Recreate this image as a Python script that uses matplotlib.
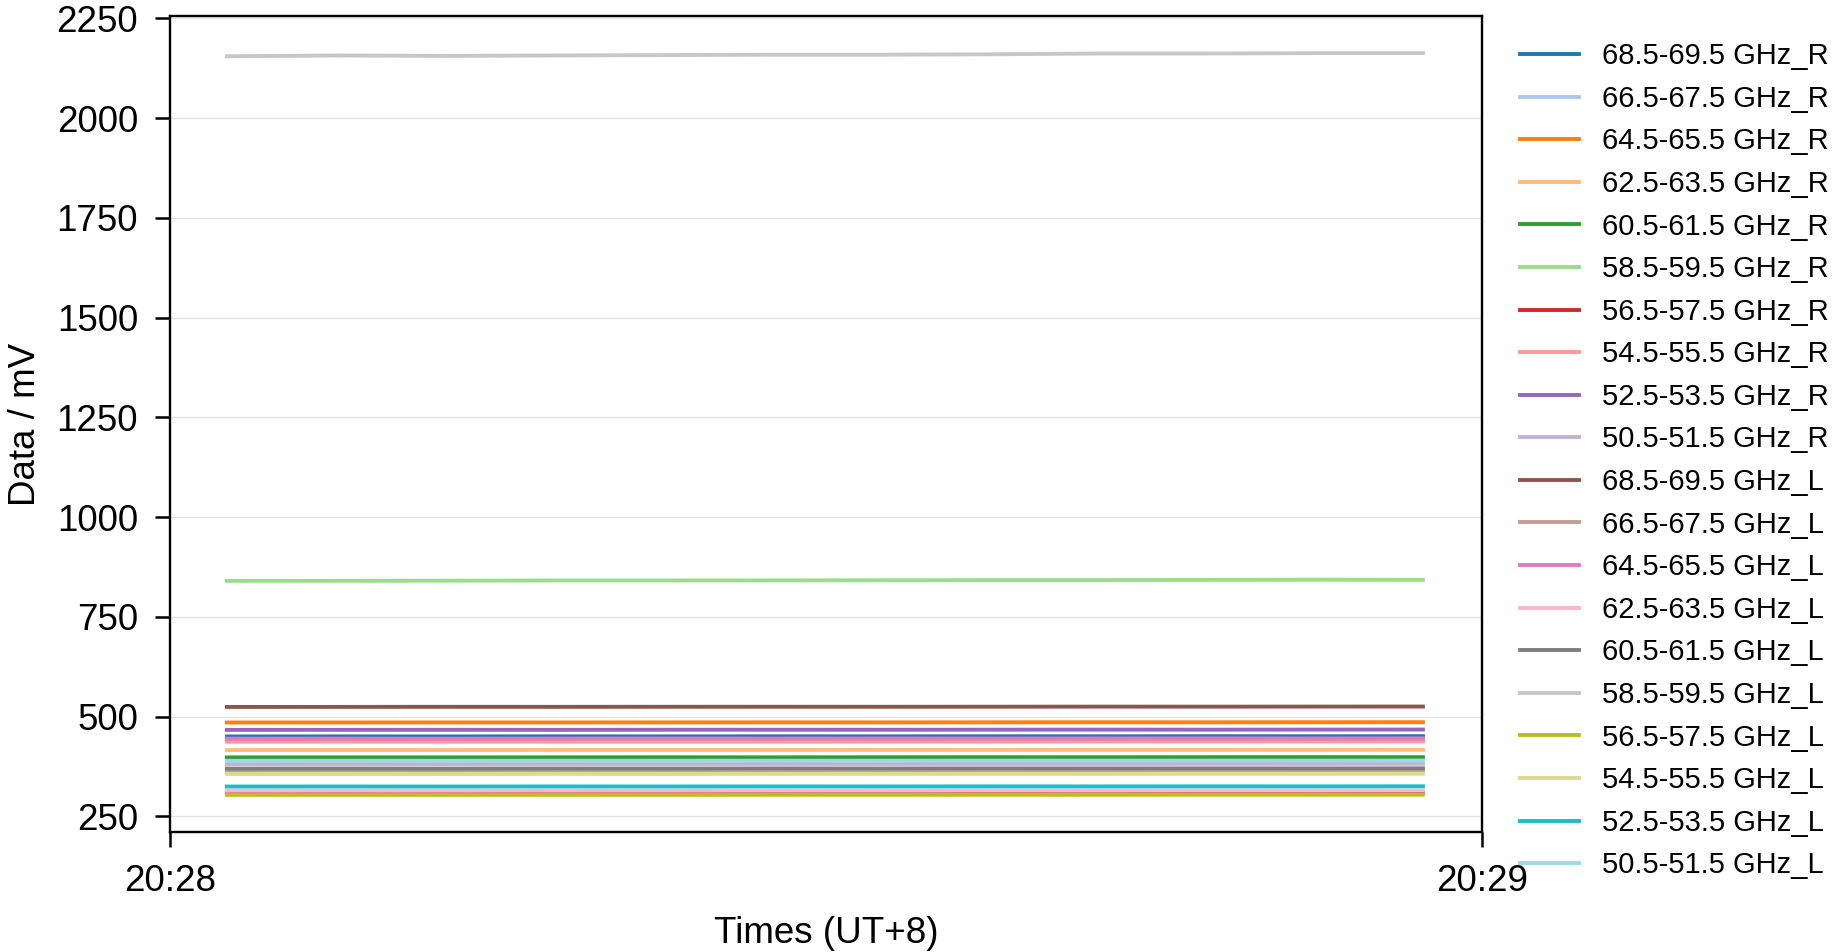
import numpy as np
import pandas as pd
import matplotlib
matplotlib.use('Agg')
import matplotlib.pyplot as plt
import matplotlib.dates as mdates

plt.rcParams['font.family'] = ['Liberation Sans', 'DejaVu Sans']

# sample times (seconds after 20:28:00)
seconds = [2.6, 7.6, 12.6, 17.6, 22.6, 27.6, 32.6, 37.6, 42.6, 47.6, 52.6, 57.3]

labels = ['68.5-69.5 GHz_R', '66.5-67.5 GHz_R', '64.5-65.5 GHz_R', '62.5-63.5 GHz_R',
          '60.5-61.5 GHz_R', '58.5-59.5 GHz_R', '56.5-57.5 GHz_R', '54.5-55.5 GHz_R',
          '52.5-53.5 GHz_R', '50.5-51.5 GHz_R',
          '68.5-69.5 GHz_L', '66.5-67.5 GHz_L', '64.5-65.5 GHz_L', '62.5-63.5 GHz_L',
          '60.5-61.5 GHz_L', '58.5-59.5 GHz_L', '56.5-57.5 GHz_L', '54.5-55.5 GHz_L',
          '52.5-53.5 GHz_L', '50.5-51.5 GHz_L']

r_68 = [450.0, 450.2, 450.1, 450.3, 450.2, 450.4, 450.3, 450.5, 450.4, 450.6, 450.5, 450.7]
r_66 = [440.0, 440.1, 440.0, 440.2, 440.1, 440.3, 440.2, 440.3, 440.4, 440.3, 440.5, 440.4]
r_64 = [485.0, 485.1, 485.2, 485.1, 485.3, 485.4, 485.3, 485.5, 485.6, 485.5, 485.7, 485.8]
r_62 = [416.0, 416.1, 416.0, 416.2, 416.3, 416.2, 416.4, 416.3, 416.5, 416.4, 416.6, 416.5]
r_60 = [397.5, 397.6, 397.5, 397.7, 397.8, 397.7, 397.9, 398.0, 397.9, 398.1, 398.2, 398.1]
r_58 = [840.0, 840.2, 840.5, 841.0, 841.0, 841.2, 841.5, 842.0, 842.0, 842.5, 843.0, 842.6]
r_56 = [309.5, 309.6, 309.5, 309.7, 309.6, 309.8, 309.7, 309.9, 309.8, 310.0, 309.9, 310.1]
r_54 = [437.0, 437.1, 437.0, 437.2, 437.3, 437.2, 437.4, 437.3, 437.5, 437.6, 437.5, 437.7]
r_52 = [466.5, 466.6, 466.7, 466.6, 466.8, 466.9, 466.8, 467.0, 467.1, 467.0, 467.2, 467.3]
r_50 = [381.0, 381.1, 381.0, 381.2, 381.1, 381.3, 381.2, 381.4, 381.3, 381.5, 381.4, 381.6]
l_68 = [524.0, 524.1, 524.3, 524.2, 524.4, 524.5, 524.4, 524.6, 524.8, 524.7, 524.9, 525.0]
l_66 = [364.0, 364.1, 364.0, 364.2, 364.1, 364.3, 364.2, 364.4, 364.3, 364.5, 364.4, 364.6]
l_64 = [444.5, 444.6, 444.5, 444.7, 444.8, 444.7, 444.9, 444.8, 445.0, 445.1, 445.0, 445.2]
l_62 = [314.0, 314.1, 314.0, 314.2, 314.1, 314.3, 314.2, 314.4, 314.3, 314.5, 314.4, 314.6]
l_60 = [369.5, 369.6, 369.5, 369.7, 369.6, 369.8, 369.7, 369.9, 369.8, 370.0, 369.9, 370.1]
l_58 = [2155.0, 2157.0, 2156.0, 2157.0, 2158.0, 2159.0, 2159.0, 2160.0, 2162.0, 2162.0, 2163.0, 2163.0]
l_56 = [303.5, 303.6, 303.5, 303.7, 303.6, 303.8, 303.7, 303.9, 303.8, 304.0, 303.9, 304.1]
l_54 = [356.0, 356.1, 356.0, 356.2, 356.1, 356.3, 356.2, 356.4, 356.3, 356.5, 356.4, 356.6]
l_52 = [324.5, 324.6, 324.5, 324.7, 324.6, 324.8, 324.7, 324.9, 324.8, 325.0, 324.9, 325.1]
l_50 = [389.0, 389.1, 389.0, 389.2, 389.1, 389.3, 389.2, 389.4, 389.3, 389.5, 389.4, 389.6]

series = [r_68, r_66, r_64, r_62, r_60, r_58, r_56, r_54, r_52, r_50,
          l_68, l_66, l_64, l_62, l_60, l_58, l_56, l_54, l_52, l_50]

t0 = pd.Timestamp('2024-01-01 20:28:00')
times = [t0 + pd.Timedelta(seconds=s) for s in seconds]

W, H = 1847, 952
fig = plt.figure(figsize=(W / 100, H / 100), dpi=100)
ax = fig.add_axes([170 / W, (H - 832) / H, 1312 / W, (832 - 16) / H])

colors = plt.get_cmap('tab20').colors
for i, (lab, vals) in enumerate(zip(labels, series)):
    ax.plot(times, vals, color=colors[i], lw=2.8, label=lab)

ax.set_xlim(t0, t0 + pd.Timedelta(minutes=1))
ax.xaxis.set_major_locator(mdates.MinuteLocator())
ax.xaxis.set_major_formatter(mdates.DateFormatter('%H:%M'))
ax.set_yticks([250, 500, 750, 1000, 1250, 1500, 1750, 2000, 2250])

ax.grid(axis='y', color='#e5e5e5', lw=1.0)
ax.set_axisbelow(True)
for sp in ax.spines.values():
    sp.set_linewidth(1.7)
ax.tick_params(labelsize=26.5, length=11, width=1.8, pad=12)

ax.set_xlabel('Times (UT+8)', fontsize=26.5, labelpad=12)
ax.set_ylabel('Data / mV', fontsize=26.5, labelpad=10)

ax.legend(loc='upper left', bbox_to_anchor=(1 + 12 / 1312, 1), frameon=False,
          fontsize=21, handlelength=2.0)

fig.savefig('out.png', dpi=100)
